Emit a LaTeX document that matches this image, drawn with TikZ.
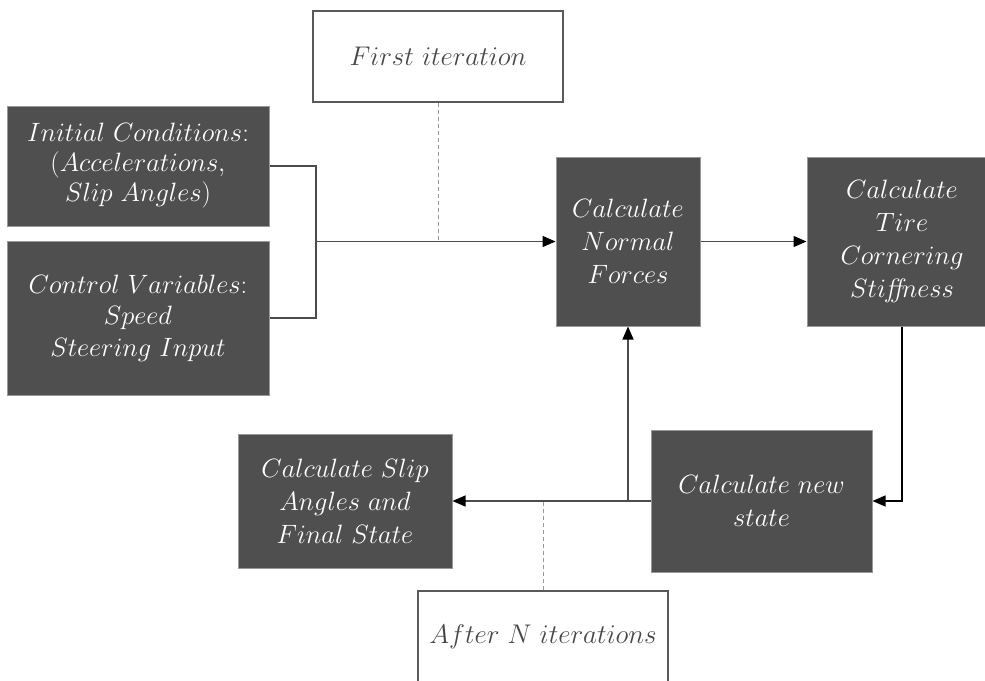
\RequirePackage{fix-cm}
\documentclass[tikz,border=0pt]{standalone}
\usetikzlibrary{arrows.meta}
\begin{document}
\begin{tikzpicture}[x=1pt,y=-1pt,
  dark/.style={draw=black!40, fill=black!69, line width=1pt, text=white, align=center, inner sep=0pt, font=\fontsize{26.5}{33}\selectfont},
  light/.style={draw=black!65, fill=white, line width=1.5pt, text=black!72, align=center, inner sep=0pt, font=\fontsize{27}{33}\selectfont},
  conn/.style={draw=black!70, line width=1.3pt},
  arr/.style={conn, -{Triangle[length=13pt,width=11pt,fill=black,color=black]}},
  dashline/.style={draw=black!40, dash pattern=on 4pt off 3pt, line width=1pt}]
\useasboundingbox (0,0) rectangle (985,680);
\clip (0,0) rectangle (985,680);
\node[light, minimum width=250pt, minimum height=91pt] (first) at (438,56.5) {$First\ iteration$};
\node[light, minimum width=250pt, minimum height=91pt] (aftern) at (543,636.5) {$After\ N\ iterations$};
\node[dark, font=\fontsize{26.5}{30}\selectfont, minimum width=262pt, minimum height=120pt] (init) at (138,166) {$Initial\ Conditions{:}$\\$(Accelerations,$\\$Slip\ Angles)$};
\node[dark, font=\fontsize{26.5}{31.5}\selectfont, minimum width=262pt, minimum height=154pt] (ctrl) at (138,318) {$Control\ Variables{:}$\\$Speed$\\$Steering\ Input$};
\node[dark, minimum width=144pt, minimum height=169pt] (normal) at (628,241.5) {$Calculate$\\$Normal$\\$Forces$};
\node[dark, minimum width=190pt, minimum height=169pt] (tire) at (902,241.5) {$Calculate$\\$Tire$\\$Cornering$\\$Sti\textit{ff}ness$};
\node[dark, minimum width=221pt, minimum height=142pt] (newst) at (761.5,501) {$Calculate\ new$\\$state$};
\node[dark, minimum width=214pt, minimum height=134pt] (slip) at (345,501) {$Calculate\ Slip$\\$Angles\ and$\\$Final\ State$};
\coordinate (j) at (316,241.5);
\draw[conn] (init.east) -| (j) |- (ctrl.east);
\draw[arr] (j) -- (normal.west);
\draw[arr] (normal.east) -- (tire.west);
\draw[arr, draw=black] (tire.south) |- (newst.east);
\draw[arr] (newst.west) -- (slip.east);
\draw[arr] (newst.west -| normal.south) -- (normal.south);
\draw[dashline] (first.south) -- (first.south |- j);
\draw[dashline] (aftern.north) -- (aftern.north |- slip.east);
\end{tikzpicture}
\end{document}
